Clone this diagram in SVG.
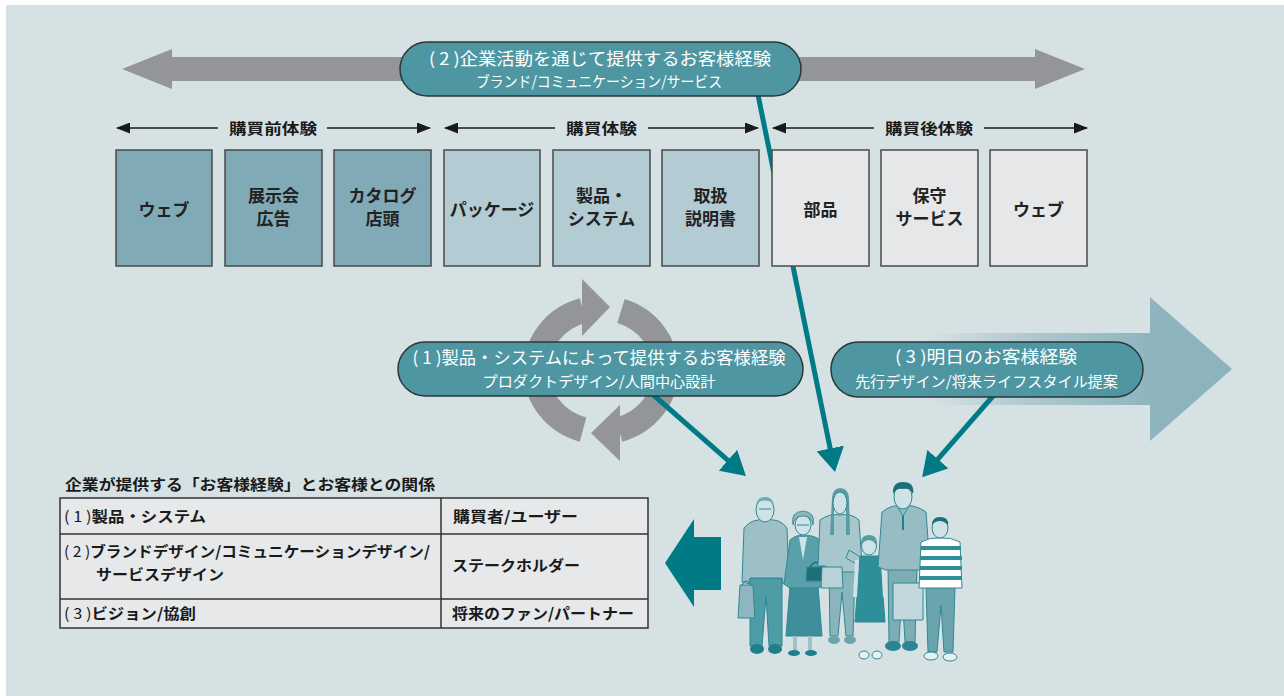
<svg xmlns="http://www.w3.org/2000/svg" width="1284" height="696" viewBox="0 0 1284 696">
  <defs>
    <style>
      .jp { font-family: "Noto Sans CJK JP", "Noto Sans", sans-serif; }
      .pill { fill: #4e97a2; stroke: #2b3739; stroke-width: 1.5; }
      .pill-t1 { font-size: 17px; fill: #ffffff; text-anchor: middle; }
      .pill-t2 { font-size: 15px; fill: #ffffff; text-anchor: middle; }
      .box { stroke: #4a4a4a; stroke-width: 1.5; }
      .box-a { fill: #80abb6; }
      .box-b { fill: #b3cbd2; }
      .box-c { fill: #e5e7e9; }
      .box-t { font-size: 17px; font-weight: 700; fill: #222222; text-anchor: middle; }
      .phase { stroke: #1a1a1a; stroke-width: 1.6; fill: none; }
      .phase-t { font-size: 15px; font-weight: 700; fill: #1a1a1a; text-anchor: middle; }
      .link { stroke: #007b85; stroke-width: 5; fill: none; }
      .tbl { fill: #e6e8ea; stroke: #333333; stroke-width: 1.5; }
      .tbl-t { font-size: 15px; font-weight: 700; fill: #1a1a1a; }
      .skin { fill: #cfe2e5; stroke: #2f8893; stroke-width: 1; }
      .ol { stroke: #2f8893; stroke-width: 1; }
    </style>
    <marker id="ph" viewBox="0 -5.5 14 11" refX="13" refY="0" markerWidth="14" markerHeight="11" markerUnits="userSpaceOnUse" orient="auto-start-reverse">
      <path d="M0,-5.5 L14,0 L0,5.5 z" fill="#1a1a1a"/>
    </marker>
    <marker id="th" viewBox="0 -14 24 28" refX="2" refY="0" markerWidth="24" markerHeight="28" markerUnits="userSpaceOnUse" orient="auto">
      <path d="M0,-14 L24,0 L0,14 z" fill="#007b85"/>
    </marker>
    <linearGradient id="fade" gradientUnits="userSpaceOnUse" x1="930" y1="0" x2="1160" y2="0">
      <stop offset="0" stop-color="#8db3bd" stop-opacity="0"/>
      <stop offset="0.45" stop-color="#8db3bd" stop-opacity="0.55"/>
      <stop offset="1" stop-color="#8db3bd" stop-opacity="1"/>
    </linearGradient>
  </defs>

  <!-- page -->
  <rect x="0" y="0" width="1284" height="696" fill="#ffffff"/>
  <rect x="6" y="5" width="1278" height="691" fill="#d5e1e3"/>

  <!-- big grey double arrow along the top -->
  <polygon points="122,69 172,49 172,57 1035,57 1035,49 1085,69 1035,89 1035,81 172,81 172,89" fill="#939598"/>

  <!-- fading arrow toward the future -->
  <polygon points="930,333 1150,333 1150,297 1232,369 1150,441 1150,405 930,405" fill="url(#fade)"/>

  <!-- circular cycle arrows -->
  <g id="cycle" fill="#939598">
    <path d="M621,311 A65,62 0 0 1 619,429.6" fill="none" stroke="#939598" stroke-width="25"/>
    <path d="M583,429.6 A65,62 0 0 1 583,310.4" fill="none" stroke="#939598" stroke-width="25"/>
    <polygon points="582,279 582,336 610,307"/>
    <polygon points="620,405 620,461 591,433"/>
  </g>

  <!-- connectors -->
  <g id="connectors">
    <line class="link" x1="650" y1="392" x2="729.4" y2="461.6" marker-end="url(#th)"/>
    <line class="link" x1="757" y1="90" x2="830.6" y2="450.4" marker-end="url(#th)"/>
    <line class="link" x1="1000" y1="388" x2="936.6" y2="460.6" marker-end="url(#th)"/>
  </g>

  <!-- touchpoint boxes -->
  <g id="box-web1"><rect class="box box-a" x="116" y="150" width="96" height="116"/><text class="jp box-t" x="164" y="216">ウェブ</text></g>
  <g id="box-expo"><rect class="box box-a" x="225" y="150" width="97" height="116"/><text class="jp box-t" x="273.5" y="202">展示会</text><text class="jp box-t" x="273.5" y="225">広告</text></g>
  <g id="box-catalog"><rect class="box box-a" x="334" y="150" width="97" height="116"/><text class="jp box-t" x="382.5" y="202">カタログ</text><text class="jp box-t" x="382.5" y="225">店頭</text></g>
  <g id="box-package"><rect class="box box-b" x="444" y="150" width="96" height="116"/><text class="jp box-t" x="492" y="216">パッケージ</text></g>
  <g id="box-product"><rect class="box box-b" x="553" y="150" width="97" height="116" stroke="#222222" stroke-width="2.5"/><text class="jp box-t" x="601.5" y="202">製品・</text><text class="jp box-t" x="601.5" y="225">システム</text></g>
  <g id="box-manual"><rect class="box box-b" x="662" y="150" width="97" height="116"/><text class="jp box-t" x="710.5" y="202">取扱</text><text class="jp box-t" x="710.5" y="225">説明書</text></g>
  <g id="box-parts"><rect class="box box-c" x="772" y="150" width="97" height="116"/><text class="jp box-t" x="820.5" y="216">部品</text></g>
  <g id="box-service"><rect class="box box-c" x="881" y="150" width="97" height="116"/><text class="jp box-t" x="929.5" y="202">保守</text><text class="jp box-t" x="929.5" y="225">サービス</text></g>
  <g id="box-web2"><rect class="box box-c" x="990" y="150" width="97" height="116"/><text class="jp box-t" x="1038.5" y="216">ウェブ</text></g>

  <!-- purchase phases -->
  <g id="phase-before">
    <line class="phase" x1="117" y1="128" x2="218" y2="128" marker-start="url(#ph)"/>
    <line class="phase" x1="327" y1="128" x2="430" y2="128" marker-end="url(#ph)"/>
    <text class="jp phase-t" x="273" y="133.5" textLength="88" lengthAdjust="spacingAndGlyphs">購買前体験</text>
  </g>
  <g id="phase-during">
    <line class="phase" x1="445" y1="128" x2="555" y2="128" marker-start="url(#ph)"/>
    <line class="phase" x1="648" y1="128" x2="758" y2="128" marker-end="url(#ph)"/>
    <text class="jp phase-t" x="601.5" y="133.5" textLength="71" lengthAdjust="spacingAndGlyphs">購買体験</text>
  </g>
  <g id="phase-after">
    <line class="phase" x1="773" y1="128" x2="874" y2="128" marker-start="url(#ph)"/>
    <line class="phase" x1="984" y1="128" x2="1087" y2="128" marker-end="url(#ph)"/>
    <text class="jp phase-t" x="929" y="133.5" textLength="88" lengthAdjust="spacingAndGlyphs">購買後体験</text>
  </g>

  <!-- experience labels -->
  <g id="exp-corporate">
    <rect class="pill" x="400" y="42" width="401" height="54" rx="27"/>
    <text class="jp pill-t1" x="600" y="65" textLength="342" lengthAdjust="spacingAndGlyphs">( 2 )企業活動を通じて提供するお客様経験</text>
    <text class="jp pill-t2" x="599" y="87" font-size="14" textLength="246" lengthAdjust="spacingAndGlyphs">ブランド/コミュニケーション/サービス</text>
  </g>
  <g id="exp-product">
    <rect class="pill" x="398" y="342" width="405" height="54" rx="27"/>
    <text class="jp pill-t1" x="599" y="364" textLength="373" lengthAdjust="spacingAndGlyphs">( 1 )製品・システムによって提供するお客様経験</text>
    <text class="jp pill-t2" x="599" y="387" textLength="233" lengthAdjust="spacingAndGlyphs">プロダクトデザイン/人間中心設計</text>
  </g>
  <g id="exp-future">
    <rect class="pill" x="831" y="342" width="312" height="55" rx="27.5"/>
    <text class="jp pill-t1" x="986" y="363" textLength="182" lengthAdjust="spacingAndGlyphs">( 3 )明日のお客様経験</text>
    <text class="jp pill-t2" x="986.5" y="387" textLength="263" lengthAdjust="spacingAndGlyphs">先行デザイン/将来ライフスタイル提案</text>
  </g>

  <!-- relationship table -->
  <g id="relation-table">
    <text class="jp tbl-t" x="65" y="490" textLength="370" lengthAdjust="spacingAndGlyphs">企業が提供する「お客様経験」とお客様との関係</text>
    <rect class="tbl" x="60" y="498" width="588" height="130"/>
    <line class="tbl" x1="60" y1="534" x2="648" y2="534"/>
    <line class="tbl" x1="60" y1="599" x2="648" y2="599"/>
    <line class="tbl" x1="441" y1="498" x2="441" y2="628"/>
    <text class="jp tbl-t" x="64" y="522" textLength="142" lengthAdjust="spacingAndGlyphs"><tspan font-weight="400">( 1 )</tspan>製品・システム</text>
    <text class="jp tbl-t" x="453" y="522" textLength="125" lengthAdjust="spacingAndGlyphs">購買者/ユーザー</text>
    <text class="jp tbl-t" x="64" y="557" textLength="366" lengthAdjust="spacingAndGlyphs"><tspan font-weight="400">( 2 )</tspan>ブランドデザイン/コミュニケーションデザイン/</text>
    <text class="jp tbl-t" x="96" y="580" textLength="128" lengthAdjust="spacingAndGlyphs">サービスデザイン</text>
    <text class="jp tbl-t" x="452" y="571" textLength="128" lengthAdjust="spacingAndGlyphs">ステークホルダー</text>
    <text class="jp tbl-t" x="64" y="619" textLength="132" lengthAdjust="spacingAndGlyphs"><tspan font-weight="400">( 3 )</tspan>ビジョン/協創</text>
    <text class="jp tbl-t" x="452" y="619" textLength="182" lengthAdjust="spacingAndGlyphs">将来のファン/パートナー</text>
  </g>

  <!-- feedback arrow pointing at the table -->
  <polygon id="feedback-arrow" points="665,563 694,519 694,537 721,537 721,590 694,590 694,607" fill="#007b85"/>

  <!-- customers -->
  <g id="customers">
    <!-- elderly man -->
    <g id="p-grandpa">
      <path class="ol" d="M750,578 L782,578 L782,646 L769,646 L766,596 L762,646 L750,646 Z" fill="#4f9ba6"/>
      <ellipse cx="757" cy="649" rx="7" ry="5" fill="#1f7f8a"/>
      <ellipse cx="775" cy="649" rx="7" ry="5" fill="#1f7f8a"/>
      <path class="ol" d="M744,528 Q752,518 766,520 Q780,518 787,528 L789,582 L783,584 L782,578 L750,578 L749,584 L742,582 Z" fill="#9dc0c7"/>
      <path class="ol" d="M740,585 L753,585 L755,618 L738,618 Z" fill="#8fb6be"/>
      <path d="M742,586 Q746,576 751,586" fill="none" stroke="#2f8893" stroke-width="1.2"/>
      <ellipse class="skin" cx="765" cy="510" rx="9" ry="12"/>
      <path d="M756,506 Q757,497 765,497 Q773,497 774,506 L772,502 Q765,499 758,502 Z" fill="#6fa9b2"/>
      <line x1="759" y1="509" x2="771" y2="509" stroke="#2f8893" stroke-width="1"/>
    </g>
    <!-- elderly woman -->
    <g id="p-grandma">
      <path class="ol" d="M790,586 L818,586 L822,636 L786,636 Z" fill="#3e8f9b"/>
      <line x1="795" y1="636" x2="795" y2="651" stroke="#9ec2c8" stroke-width="4"/>
      <line x1="810" y1="636" x2="810" y2="651" stroke="#9ec2c8" stroke-width="4"/>
      <ellipse cx="794" cy="653" rx="6" ry="3" fill="#1f7f8a"/>
      <ellipse cx="811" cy="653" rx="6" ry="3" fill="#1f7f8a"/>
      <path class="ol" d="M790,540 Q797,534 803,536 Q812,534 820,540 L827,584 L818,588 L790,588 L784,584 Z" fill="#5aa0aa"/>
      <path d="M799,537 L803,560 L807,537" fill="#cfe2e5"/>
      <path class="ol" d="M807,567 L825,567 L826,581 L806,581 Z" fill="#1f6f79"/>
      <path d="M810,567 Q816,558 822,567" fill="none" stroke="#1f6f79" stroke-width="1.5"/>
      <ellipse class="skin" cx="803" cy="525" rx="8" ry="10"/>
      <path d="M793,525 Q790,512 803,511 Q816,512 813,525 Q812,516 803,516 Q794,516 793,525 Z" fill="#8db3bb" stroke="#2f8893" stroke-width="0.8"/>
      <line x1="797" y1="525" x2="809" y2="525" stroke="#2f8893" stroke-width="1"/>
    </g>
    <!-- young woman -->
    <g id="p-woman">
      <path class="ol" d="M829,570 L855,570 L853,636 L846,636 L842,592 L838,636 L830,636 Z" fill="#8ab5bd"/>
      <ellipse cx="834" cy="640" rx="6" ry="4" fill="#6ca4ad"/>
      <ellipse cx="850" cy="640" rx="6" ry="4" fill="#6ca4ad"/>
      <path class="ol" d="M820,520 Q830,513 840,515 Q851,513 859,520 L862,565 L857,568 L855,572 L829,572 L826,566 L818,566 Z" fill="#a7c7cd"/>
      <path d="M849,550 L862,558 L858,565 L846,558 Z" fill="#a7c7cd" stroke="#2f8893" stroke-width="1"/>
      <path class="ol" d="M822,567 L842,567 L843,588 L821,588 Z" fill="#b9d2d7"/>
      <path d="M832,498 Q833,488 840,488 Q848,488 849,498 L850,535 L846,535 L846,504 L834,504 L834,535 L830,535 Z" fill="#5a9ca6"/>
      <ellipse class="skin" cx="840" cy="503" rx="7" ry="11"/>
    </g>
    <!-- girl -->
    <g id="p-girl">
      <line x1="865" y1="620" x2="865" y2="652" stroke="#cfe2e5" stroke-width="4"/>
      <line x1="876" y1="620" x2="876" y2="652" stroke="#cfe2e5" stroke-width="4"/>
      <ellipse cx="864" cy="655" rx="5" ry="4" fill="#e8f1f2" stroke="#2f8893" stroke-width="1"/>
      <ellipse cx="877" cy="655" rx="5" ry="4" fill="#e8f1f2" stroke="#2f8893" stroke-width="1"/>
      <path class="ol" d="M860,556 L880,556 L885,622 L855,622 Z" fill="#2e8f9a"/>
      <line x1="857" y1="560" x2="855" y2="597" stroke="#cfe2e5" stroke-width="4"/>
      <line x1="883" y1="560" x2="885" y2="597" stroke="#cfe2e5" stroke-width="4"/>
      <ellipse class="skin" cx="869" cy="546" rx="7.5" ry="9"/>
      <path d="M861,546 Q860,535 869,535 Q878,535 877,546 Q873,540 869,540 Q864,540 861,546 Z" fill="#5a9ca6"/>
    </g>
    <!-- man -->
    <g id="p-man">
      <path class="ol" d="M888,566 L917,566 L915,642 L905,642 L902,590 L899,642 L889,642 Z" fill="#7fadb5"/>
      <ellipse cx="893" cy="646" rx="8" ry="5" fill="#2a8590"/>
      <ellipse cx="910" cy="646" rx="8" ry="5" fill="#2a8590"/>
      <path class="ol" d="M882,512 Q892,504 903,506 Q915,504 926,512 L930,567 L923,570 L886,570 L878,567 Z" fill="#97bcc3"/>
      <path d="M897,506 L903,516 L909,506" fill="none" stroke="#2f8893" stroke-width="1"/>
      <line x1="903" y1="516" x2="903" y2="530" stroke="#1f7f8a" stroke-width="2"/>
      <path class="ol" d="M893,583 L923,583 L923,620 L893,620 Z" fill="#c2d8dc"/>
      <ellipse class="skin" cx="903" cy="497" rx="9" ry="12"/>
      <path d="M893,494 Q892,482 903,482 Q915,482 913,494 Q910,488 903,489 Q896,488 893,494 Z" fill="#1f6f79"/>
    </g>
    <!-- boy -->
    <g id="p-boy">
      <path class="ol" d="M926,587 L955,587 L953,652 L944,652 L941,605 L937,652 L928,652 Z" fill="#6aa5ae"/>
      <ellipse cx="931" cy="656" rx="7" ry="4" fill="#e8f1f2" stroke="#2f8893" stroke-width="1"/>
      <ellipse cx="950" cy="657" rx="7" ry="4" fill="#e8f1f2" stroke="#2f8893" stroke-width="1"/>
      <path class="ol" d="M921,542 Q930,537 940,538 Q951,537 960,542 L962,588 L919,588 Z" fill="#ffffff"/>
      <g stroke="#2e8f9a" stroke-width="4">
        <line x1="921" y1="548" x2="961" y2="548"/>
        <line x1="920" y1="558" x2="962" y2="558"/>
        <line x1="920" y1="568" x2="962" y2="568"/>
        <line x1="920" y1="578" x2="962" y2="578"/>
      </g>
      <ellipse class="skin" cx="940" cy="528" rx="8" ry="10"/>
      <path d="M932,525 Q932,517 940,517 Q949,517 948,525 Q944,521 940,521 Q935,521 932,525 Z" fill="#1f6f79"/>
    </g>
  </g>
</svg>
